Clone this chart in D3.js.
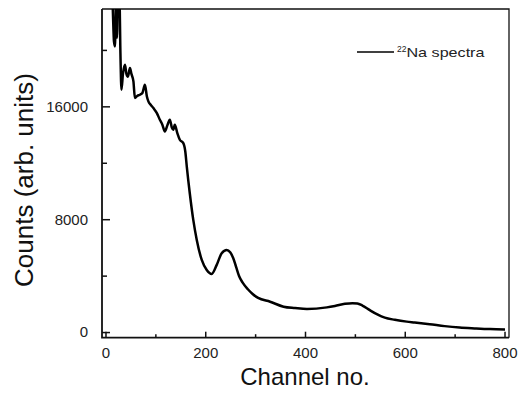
<!DOCTYPE html>
<html>
<head>
<meta charset="utf-8">
<script src="https://cdn.jsdelivr.net/npm/d3@7"></script>
<style>
	body { margin: 0; background: #fff; }
	svg { display: block; font-family: "Liberation Sans", Arial, sans-serif; }
	.axis text { fill: #222; font-size: 15px; }
	.axis line { stroke: #111; stroke-width: 1.5; }
</style>
</head>
<body>
<div id="chart"></div>
<script>

// 22Na spectrum
const channel = [12,15,17,19,21,23,25,28,30,32,35,39,42,45,49,52,56,59,64,69,74,79,83,86,91,96,
	103,109,114,119,124,129,133,136,139,144,149,156,160,163,169,176,183,193,203,213,223,233,243,250,
	256,262,268,275,285,295,306,330,357,380,404,444,460,480,495,505,515,530,545,560,580,604,620,650,680,710,740,771,801];
const counts = [26000,22500,20600,20250,23500,20870,24500,23800,19660,17180,18300,18950,18300,18100,18720,18300,17770,16600,16750,16820,16950,17530,16700,16350,16100,15880,
	15520,15050,14700,14220,14650,15050,14500,14340,14690,14100,13630,13390,12800,11730,9840,7950,6530,5110,4400,4120,4760,5590,5820,5650,
	5250,4600,3950,3500,3050,2700,2420,2150,1800,1700,1630,1750,1850,2000,2050,2030,1880,1550,1250,1020,870,740,680,560,420,320,260,210,190];

const xTicks = [0,200,400,600,800];
const xMinor = [100,300,500,700];
const yTicks = [0,8000,16000];
const yMinor = [4000,12000,20000];
const seriesName = 'Na spectra';
const isotope = '22';

const W = 520, H = 394;
const margin = {t:9,r:11,b:56.3,l:102};
const w = W-margin.l-margin.r;
const h = H-margin.t-margin.b;

const data = channel.map(function(c,i){ return {x:c, y:counts[i]}; });

const svg = d3.select('#chart').append('svg')
	.attr('width', W)
	.attr('height', H);

svg.append('defs').append('clipPath')
	.attr('id','clip')
	.append('rect')
	.attr('width', w)
	.attr('height', h);

const plot = svg.append('g')
	.attr('class','plot')
	.attr('transform',`translate(${margin.l},${margin.t})`);

const scaleX = d3.scaleLinear().domain([-7,809]).range([0,w]);
const scaleY = d3.scaleLinear().domain([-400,22900]).range([h,0]);

////////////////////////////////////////////////////////////////////

plot.append('g')
	.attr('class','axis axis-x')
	.attr('transform',`translate(0,${h})`)
	.call(d3.axisBottom(scaleX).tickValues(xTicks).tickSize(-6).tickPadding(10))
	.call(g => g.select('.domain').remove());

plot.append('g')
	.attr('class','axis axis-x-minor')
	.attr('transform',`translate(0,${h})`)
	.call(d3.axisBottom(scaleX).tickValues(xMinor).tickSize(-3.5).tickFormat(''))
	.call(g => g.select('.domain').remove());

plot.append('g')
	.attr('class','axis axis-y')
	.call(d3.axisLeft(scaleY).tickValues(yTicks).tickSize(-8).tickPadding(14).tickFormat(d3.format('d')))
	.call(g => g.select('.domain').remove());

plot.append('g')
	.attr('class','axis axis-y-minor')
	.call(d3.axisLeft(scaleY).tickValues(yMinor).tickSize(-5).tickFormat(''))
	.call(g => g.select('.domain').remove());

// frame
plot.append('path')
	.attr('d', `M0,0V${h}H${w}`)
	.attr('fill','none')
	.attr('stroke','#111')
	.attr('stroke-width',1.8);
plot.append('path')
	.attr('d', `M0,0H${w}V${h}`)
	.attr('fill','none')
	.attr('stroke','#111')
	.attr('stroke-width',1.3);

////////////////////////////////////////////////////////////////////

const line = d3.line()
	.x(function(d){ return scaleX(d.x); })
	.y(function(d){ return scaleY(d.y); })
	.curve(d3.curveMonotoneX);

plot.append('path')
	.datum(data)
	.attr('clip-path','url(#clip)')
	.attr('d', line)
	.attr('fill','none')
	.attr('stroke','#000')
	.attr('stroke-width',2.5)
	.attr('stroke-linejoin','round');

// legend
const legend = plot.append('g')
	.attr('transform','translate(255,43)');
legend.append('line')
	.attr('x1',0).attr('x2',37)
	.attr('y1',0).attr('y2',0)
	.attr('stroke','#000')
	.attr('stroke-width',1.5);
const lt = legend.append('text')
	.attr('x',40)
	.attr('y',5)
	.attr('fill','#222')
	.style('font-size','13px');
lt.append('tspan')
	.attr('dy',-5)
	.style('font-size','8.5px')
	.text(isotope);
lt.append('tspan')
	.attr('dy',5)
	.attr('textLength',78)
	.attr('lengthAdjust','spacingAndGlyphs')
	.text(seriesName);

// axis titles
svg.append('text')
	.attr('x', margin.l + scaleX(400))
	.attr('y', 385)
	.attr('text-anchor','middle')
	.attr('fill','#111')
	.style('font-size','24px')
	.text('Channel no.');

svg.append('text')
	.attr('transform','translate(33,180) rotate(-90)')
	.attr('text-anchor','middle')
	.attr('fill','#111')
	.style('font-size','26px')
	.text('Counts (arb. units)');

</script>
</body>
</html>
